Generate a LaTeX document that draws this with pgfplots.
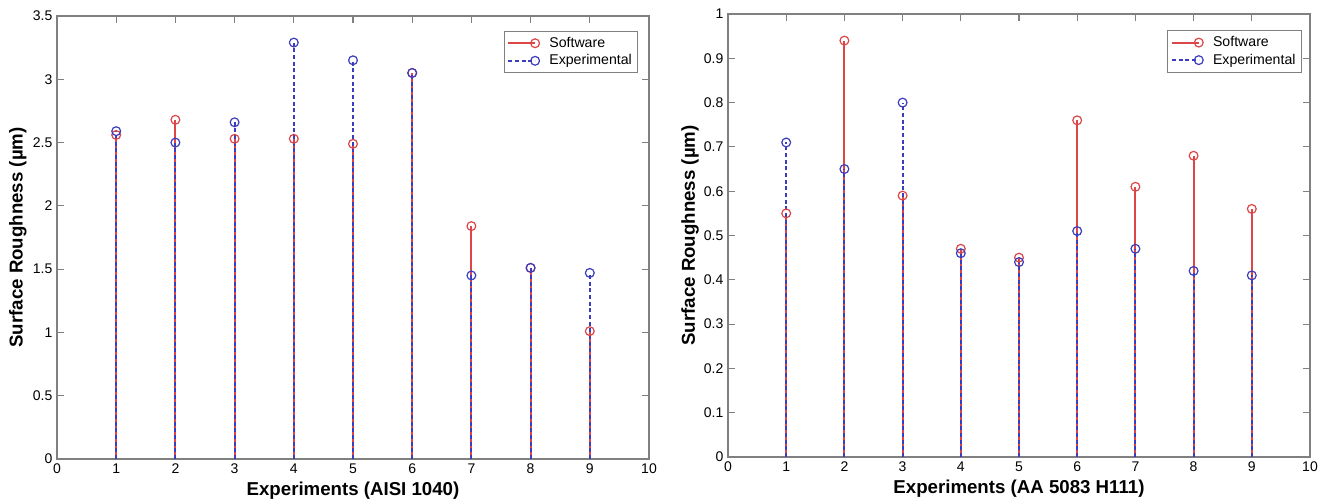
\documentclass[border=0pt]{standalone}
\usepackage{fontspec}
\setmainfont{Liberation Sans}
\usepackage{pgfplots}
\pgfplotsset{compat=1.18}

\definecolor{swred}{RGB}{220,70,70}
\definecolor{exblue}{RGB}{60,60,190}
\definecolor{axgray}{RGB}{128,128,128}

\pgfplotsset{
  stemaxis/.style={
    scale only axis,
    height=332.25pt,
    xmin=0, xmax=10,
    xtick={0,1,...,10},
    ymin=0,
    tick align=inside,
    major tick length=5pt,
    axis line style={axgray, line width=0.8pt},
    tick style={axgray, line width=0.8pt},
    tick label style={font=\fontsize{10.5}{12}\selectfont},
    /pgf/number format/assume math mode=true,
    label style={font=\fontsize{14}{16}\selectfont\bfseries},
    xlabel style={at={(axis description cs:0.5,-0.0835)}, anchor=base},
    legend cell align=left,
    legend style={font=\fontsize{10.6}{13}\selectfont, draw=axgray,
      line width=0.7pt, inner sep=2.5pt, row sep=0pt},
    legend image code/.code={
      \draw[#1, mark=none] (0pt,0pt) -- (20pt,0pt);
      \draw[#1, only marks, solid] plot coordinates {(20pt,0pt)};
      \path (28pt,0pt);
    },
  },
  sw/.style={ycomb, swred, line width=1.4pt, mark=o, mark size=3.3pt,
    mark options={solid, line width=0.9pt}},
  ex/.style={ycomb, exblue, line width=1.4pt, dash pattern=on 3pt off 2pt,
    mark=o, mark size=3.3pt, mark options={solid, line width=0.9pt}},
}

\begin{document}
\begin{tikzpicture}
\useasboundingbox (-42.75pt,-33pt) rectangle (959.25pt,344.25pt);

\begin{axis}[stemaxis,
  at={(0pt,0pt)}, anchor=south west,
  width=444pt,
  ymax=3.5, ytick={0,0.5,...,3.5},
  xlabel={Experiments (AISI 1040)},
  ylabel={Surface Roughness (µm)},
  ylabel style={at={(axis description cs:-0.066,0.5)}, anchor=center},
  legend style={at={(axis description cs:1,1)}, xshift=-8pt, yshift=-11pt, anchor=north east},
]
\addplot[sw] coordinates {(1,2.56) (2,2.68) (3,2.53) (4,2.53) (5,2.49) (6,3.05) (7,1.84) (8,1.51) (9,1.01)};
\addlegendentry{Software}
\addplot[ex] coordinates {(1,2.59) (2,2.50) (3,2.66) (4,3.29) (5,3.15) (6,3.05) (7,1.45) (8,1.51) (9,1.47)};
\addlegendentry{Experimental}
\end{axis}

\begin{axis}[stemaxis,
  at={(503.25pt,1.5pt)}, anchor=south west,
  width=436.5pt,
  ymax=1, ytick={0,0.1,...,1.0},
  xlabel={Experiments (AA 5083 H111)},
  ylabel={Surface Roughness (µm)},
  ylabel style={at={(axis description cs:-0.065,0.5)}, anchor=center},
  legend style={at={(axis description cs:1,1)}, xshift=-6pt, yshift=-12pt, anchor=north east},
]
\addplot[sw] coordinates {(1,0.55) (2,0.94) (3,0.59) (4,0.47) (5,0.45) (6,0.76) (7,0.61) (8,0.68) (9,0.56)};
\addlegendentry{Software}
\addplot[ex] coordinates {(1,0.71) (2,0.65) (3,0.80) (4,0.46) (5,0.44) (6,0.51) (7,0.47) (8,0.42) (9,0.41)};
\addlegendentry{Experimental}
\end{axis}
\end{tikzpicture}
\end{document}
